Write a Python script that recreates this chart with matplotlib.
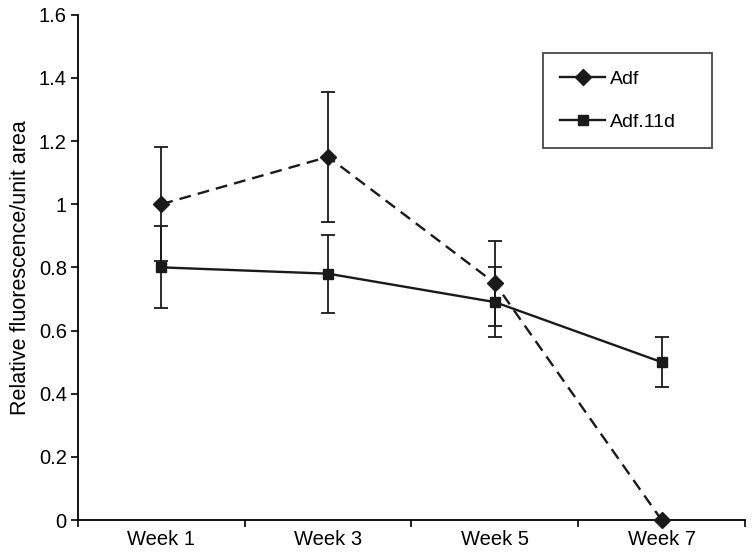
import numpy as np
import matplotlib.pyplot as plt
from matplotlib.lines import Line2D

weeks = ['Week 1', 'Week 3', 'Week 5', 'Week 7']
adf = [1.0, 1.15, 0.75, 0.0]
adf_err = [0.18, 0.205, 0.135, 0.0]
adf11d = [0.8, 0.78, 0.69, 0.5]
adf11d_err = [0.13, 0.124, 0.11, 0.08]

plt.rcParams['font.family'] = ['Liberation Sans', 'DejaVu Sans']

fig = plt.figure(figsize=(7.54, 5.57), dpi=100)
ax = fig.add_axes([0.1034, 0.0664, 0.8846, 0.9072])

x = np.arange(len(weeks))

ax.errorbar(x, adf, yerr=adf_err, fmt='D', color='#1a1a1a', ls=(0, (5, 3)),
            lw=1.7, ms=8, capsize=5, capthick=1.3, elinewidth=1.3, clip_on=False, zorder=3)
ax.errorbar(x, adf11d, yerr=adf11d_err, fmt='s', color='#1a1a1a', ls='-',
            lw=1.7, ms=7.5, capsize=5, capthick=1.3, elinewidth=1.3, clip_on=False, zorder=3)

ax.set_xlim(-0.5, 3.5)
ax.set_ylim(0, 1.6)
ax.set_yticks(np.arange(0, 1.61, 0.2))
ax.set_yticklabels(['0', '0.2', '0.4', '0.6', '0.8', '1', '1.2', '1.4', '1.6'])
ax.set_xticks(x)
ax.set_xticklabels(weeks)
ax.set_xticks(np.arange(-0.5, 3.6, 1), minor=True)
ax.tick_params(axis='x', which='major', length=0, pad=7, labelsize=14.5)
ax.tick_params(axis='x', which='minor', length=5, width=1.2, direction='out')
ax.tick_params(axis='y', length=5, width=1.2, direction='out', labelsize=14.5, pad=3)

ax.spines['top'].set_visible(False)
ax.spines['right'].set_visible(False)
ax.spines['left'].set_linewidth(1.3)
ax.spines['bottom'].set_linewidth(1.3)

ax.set_ylabel('Relative fluorescence/unit area', fontsize=15.5, labelpad=6)

handles = [
    Line2D([], [], color='#1a1a1a', lw=1.7, marker='D', ms=8),
    Line2D([], [], color='#1a1a1a', lw=1.7, marker='s', ms=7.5),
]
leg = ax.legend(handles, ['Adf', 'Adf.11d'], loc='upper left',
                bbox_to_anchor=(0.697, 0.0, 0.2534, 0.925), mode='expand',
                frameon=True, fancybox=False,
                edgecolor='#1a1a1a', fontsize=14, handlelength=2.3,
                labelspacing=1.3, borderpad=0.9, handletextpad=0.25,
                borderaxespad=0)
leg.get_frame().set_linewidth(1.3)

plt.savefig('out.png', dpi=100)
